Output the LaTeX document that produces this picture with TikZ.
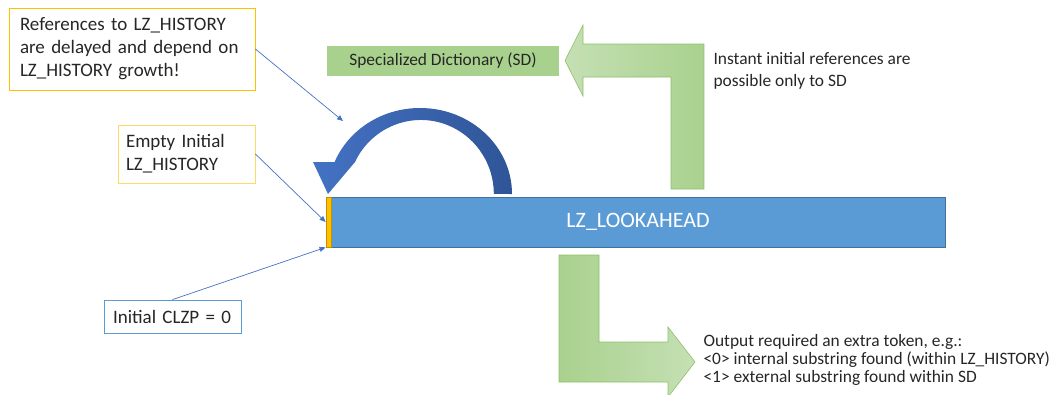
\documentclass[tikz,border=0pt]{standalone}
\usepackage{fontspec}
\setmainfont{Carlito}
\usetikzlibrary{arrows.meta}
\definecolor{ybord}{HTML}{FFC000}
\definecolor{ylight}{HTML}{FFD966}
\definecolor{bfill}{HTML}{5B9BD5}
\definecolor{bdark}{HTML}{41719C}
\definecolor{bline}{HTML}{4472C4}
\definecolor{bdeep}{HTML}{2F5597}
\definecolor{gfill}{HTML}{A9D18E}
\definecolor{glight}{HTML}{C5E0B4}
\definecolor{gbord}{HTML}{8CC168}
\definecolor{txt}{HTML}{262626}
\begin{document}
\begin{tikzpicture}[
  x=1pt, y=-1pt,
  note/.style={draw,line width=0.8pt,fill=white,align=left,text=txt,inner ysep=0pt},
  big/.style={font=\fontsize{19}{23}\selectfont},
  small/.style={font=\fontsize{17.4}{22}\selectfont,text=txt},
  bar/.style={draw=bdark,line width=0.8pt,fill=bfill,minimum height=50pt,inner sep=0pt},
  link/.style={-{Triangle[length=6pt,width=5pt]},bline,line width=0.7pt},
  garrow/.style={draw=gbord,line width=0.6pt},
]
\useasboundingbox (0,0) rectangle (1054,394);
% buffers
\node[bar,minimum width=614pt] (look) at (638,222)
  {\color{white}\fontsize{22}{26}\selectfont LZ\_LOOKAHEAD};
\node[bar,draw=ybord!75!black,fill=ybord,minimum width=5pt] (hist) at (328.5,222) {};
\node[fill=gfill,minimum width=232pt,minimum height=30pt,inner sep=0pt,
  font=\fontsize{17.4}{20}\selectfont,text=txt] (sd) at (443,61) {Specialized Dictionary (SD)};
% notes
\node[note,big,draw=ybord,text width=224pt,inner xsep=11pt,minimum height=82pt] (n1) at (132,49)
  {References to LZ\_HISTORY\\are delayed and depend on\\LZ\_HISTORY growth!};
\node[note,big,draw=ylight,text width=121pt,inner xsep=8pt,minimum height=58pt] (n2) at (186.5,154)
  {Empty Initial\\LZ\_HISTORY};
\node[note,big,draw=bfill,text width=119pt,inner xsep=9pt,minimum height=33pt] (n3) at (172.5,316.5)
  {Initial CLZP = 0};
\node[small,align=left,anchor=west] (inst) at (710,71)
  {Instant initial references are\\possible only to SD};
\node[small,font=\fontsize{17.4}{17.7}\selectfont,align=left,anchor=west] (out) at (700,360)
  {Output required an extra token, e.g.:\\{<}0{>} internal substring found (within LZ\_HISTORY)\\{<}1{>} external substring found within SD};
% big arrows
\path[garrow,left color=glight,right color=gfill]
  (704,189) -- (671,189) -- (671,77) -- (583,77) -- (583,96) -- (565,60.5)
  -- (583,25) -- (583,44) -- (704,44) -- cycle;
\path[garrow,left color=gfill,right color=glight]
  (559,255) -- (599,255) -- (599,342) -- (668,342) -- (668,327) -- (695,362)
  -- (668,397) -- (668,382) -- (559,382) -- cycle;
\path[left color=bline,right color=bdeep]
  (512,194) arc[start angle=0,end angle=158.2,x radius=92pt,y radius=86pt]
  -- (313,162) -- (328,194) -- (355,162)
  arc[start angle=154.4,end angle=0,x radius=73pt,y radius=74pt] -- cycle;
% connectors
\coordinate (loop) at (343,121);
\draw[link] (n1.east) -- (loop);
\draw[link] (n2.east) -- (hist.west);
\draw[link] (n3.north) -- (hist.south west);
\end{tikzpicture}
\end{document}
